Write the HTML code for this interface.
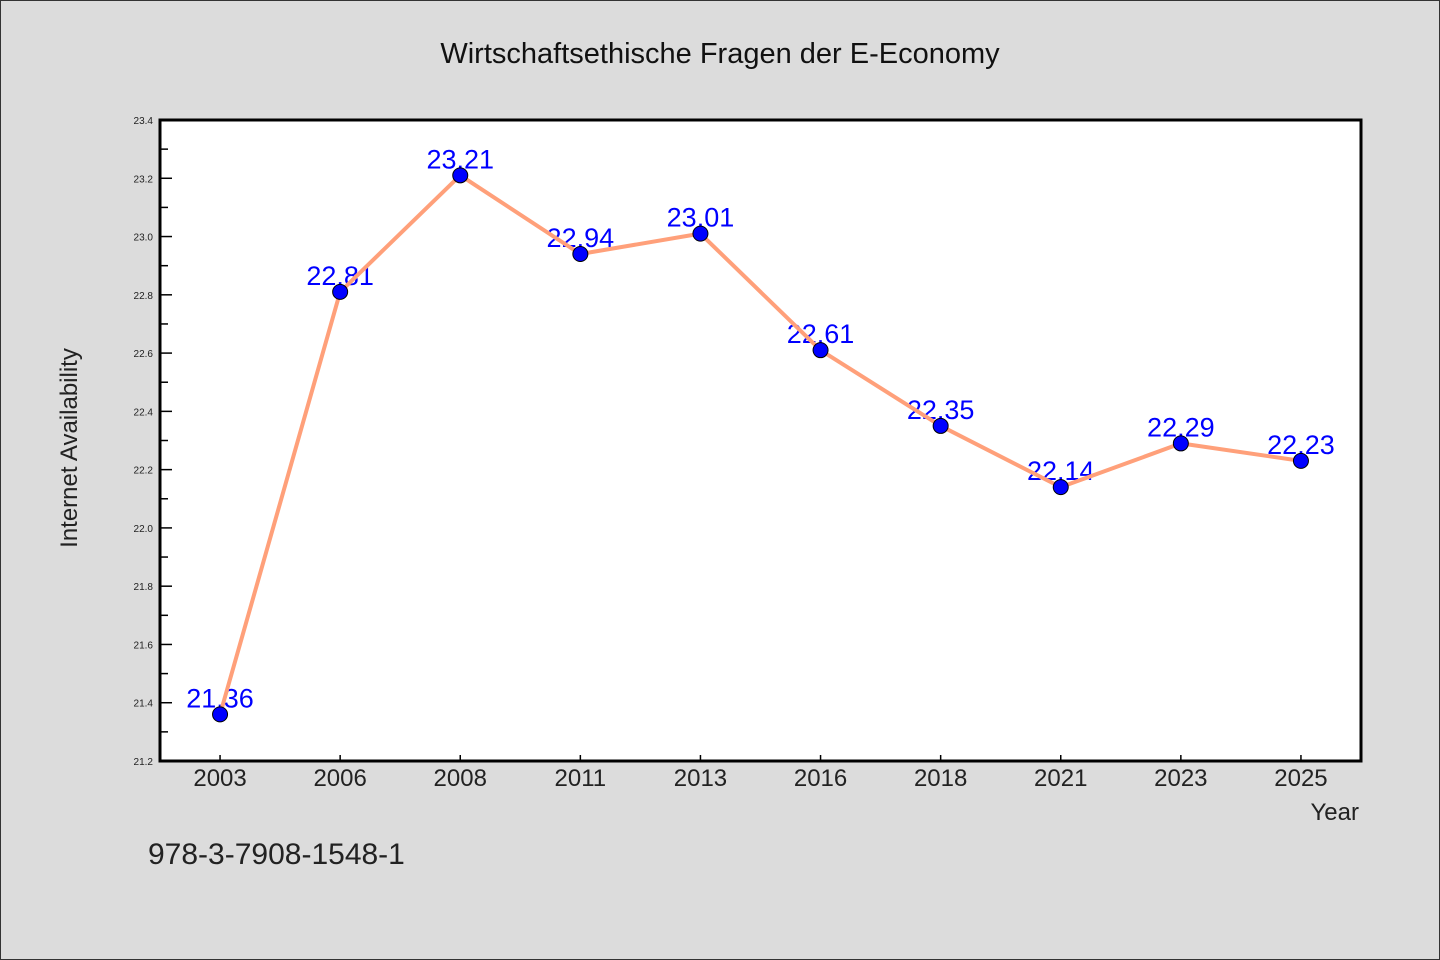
<!DOCTYPE html>
<html><head><meta charset="utf-8"><style>
html,body{margin:0;padding:0;background:#dcdcdc;}
svg{display:block;font-family:"WenQuanYi Zen Hei","Liberation Sans",sans-serif;}
</style></head><body>
<svg id="chart" width="1440" height="960">
<rect x="0.5" y="0.5" width="1439" height="959" fill="#dcdcdc" stroke="#333"/>
<text x="720" y="63" text-anchor="middle" font-size="29" fill="#111">Wirtschaftsethische Fragen der E-Economy</text>
<rect x="160" y="120" width="1201" height="641" fill="#fff"/>
<g id="axes"></g>
<g id="labels"></g>
<g id="series"></g>
<g id="markers"></g>
<rect x="160" y="120" width="1201" height="641" fill="none" stroke="#000" stroke-width="3"/>
<text x="77" y="448" text-anchor="middle" font-size="24" fill="#222" transform="rotate(-90 77 448)">Internet Availability</text>
<text x="1359" y="820" text-anchor="end" font-size="24" fill="#222">Year</text>
<text x="148" y="864" font-size="30" fill="#222">978-3-7908-1548-1</text>
</svg>
<script>
const categories=["2003","2006","2008","2011","2013","2016","2018","2021","2023","2025"];
const values=[21.36,22.81,23.21,22.94,23.01,22.61,22.35,22.14,22.29,22.23];
const yTicks=[21.2,21.4,21.6,21.8,22.0,22.2,22.4,22.6,22.8,23.0,23.2,23.4];
const yMin=21.2,yMax=23.4;
const L=160,R=1361,T=120,B=761;
const ns="http://www.w3.org/2000/svg";
function y(v){return B-(v-yMin)/(yMax-yMin)*(B-T);}
function x(i){const bw=(R-L)/categories.length;return L+bw*(i+0.5);}
function mk(tag,attrs,parent){const e=document.createElementNS(ns,tag);for(const k in attrs)e.setAttribute(k,attrs[k]);parent.appendChild(e);return e;}
const axes=document.getElementById('axes');
yTicks.forEach((t,i)=>{
  const yy=y(t);
  const ln=mk('line',{x1:L,x2:L+12,y1:yy,y2:yy,stroke:'#000','stroke-width':1.5},axes);
  
  
  const tx=mk('text',{x:L-7,y:yy+4,'text-anchor':'end','font-size':10,fill:'#222'},axes);
  tx.textContent=t.toFixed(1);
  
  
  if(i<yTicks.length-1){
    const ym=y(t+0.1);
    const m=mk('line',{x1:L,x2:L+8,y1:ym,y2:ym,stroke:'#000','stroke-width':1.5},axes);
    
    
  }
});
categories.forEach((c,i)=>{
  const xx=x(i);
  const ln=mk('line',{x1:xx,x2:xx,y1:B,y2:B-6,stroke:'#000','stroke-width':1.5},axes);
  
  
  const tx=mk('text',{x:xx,y:B+25,'text-anchor':'middle','font-size':24,fill:'#222'},axes);
  tx.textContent=c;
  
  
});
const lab=document.getElementById('labels');
values.forEach((v,i)=>{
  const tx=mk('text',{x:x(i),y:y(v)-7,'text-anchor':'middle','font-size':27,fill:'#0000ff'},lab);
  tx.textContent=v.toFixed(2);
  
  
});
const pts=values.map((v,i)=>x(i)+','+y(v)).join(' ');
const pl=mk('polyline',{points:pts,fill:'none',stroke:'#ffa07a','stroke-width':4,'stroke-linejoin':'round'},document.getElementById('series'));


const mg=document.getElementById('markers');
values.forEach((v,i)=>{
  const c=mk('circle',{cx:x(i),cy:y(v),r:7.5,fill:'#0000ff',stroke:'#000','stroke-width':1},mg);
  
  
});
</script>
</body></html>
